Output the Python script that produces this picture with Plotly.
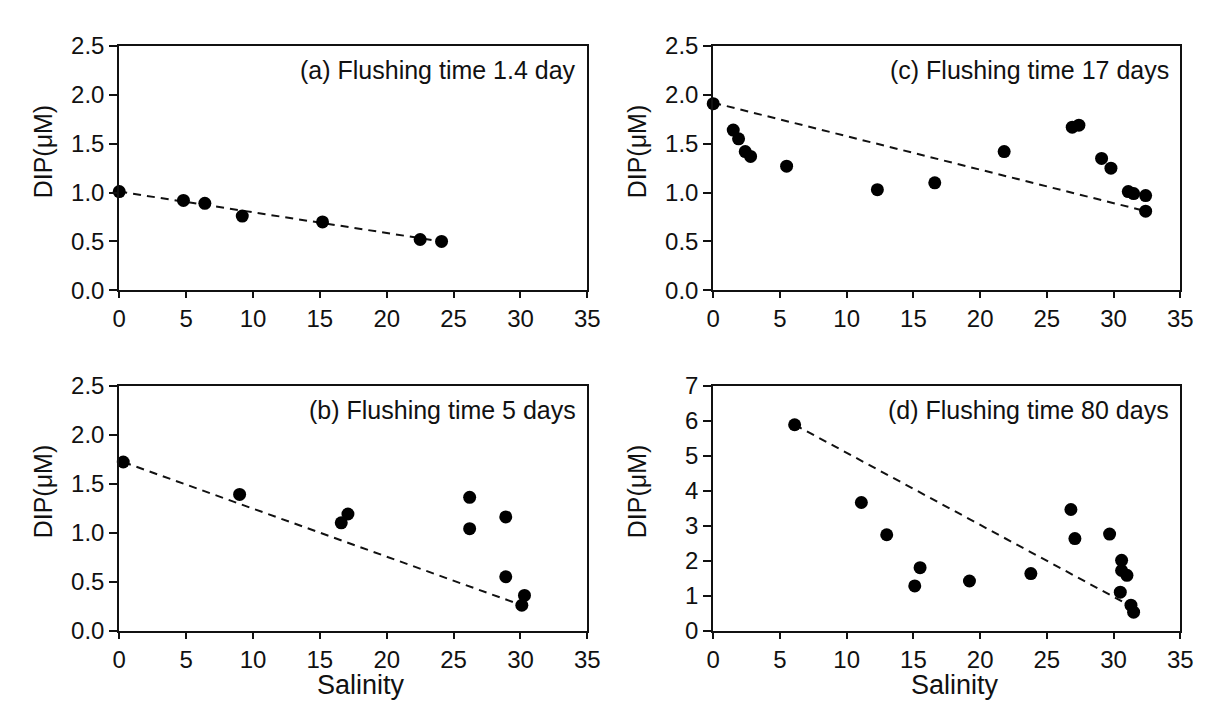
import plotly.graph_objects as go

W, H = 1205, 704

# ---- data ----
a_sal = [0.0, 4.8, 6.4, 9.2, 15.2, 22.5, 24.1]
a_dip = [1.01, 0.92, 0.89, 0.76, 0.70, 0.52, 0.50]
a_mix_sal = [0.0, 24.1]
a_mix_dip = [1.01, 0.50]

c_sal = [0.0, 1.5, 1.9, 2.4, 2.8, 5.5, 12.3, 16.6, 21.8, 26.9, 27.4, 29.1, 29.8, 31.1, 31.5, 32.4, 32.4]
c_dip = [1.91, 1.64, 1.55, 1.42, 1.37, 1.27, 1.03, 1.10, 1.42, 1.67, 1.69, 1.35, 1.25, 1.01, 0.99, 0.97, 0.81]
c_mix_sal = [0.0, 32.4]
c_mix_dip = [1.92, 0.81]

b_sal = [0.3, 9.0, 16.6, 17.1, 26.2, 26.2, 28.9, 28.9, 30.3, 30.1]
b_dip = [1.72, 1.39, 1.10, 1.19, 1.36, 1.04, 1.16, 0.55, 0.36, 0.26]
b_mix_sal = [0.3, 30.1]
b_mix_dip = [1.72, 0.26]

d_sal = [6.1, 11.1, 13.0, 15.1, 15.5, 19.2, 23.8, 26.8, 27.1, 29.7, 30.6, 30.6, 31.0, 30.5, 31.3, 31.5]
d_dip = [5.88, 3.66, 2.74, 1.28, 1.80, 1.42, 1.63, 3.46, 2.63, 2.76, 2.01, 1.72, 1.58, 1.10, 0.73, 0.53]
d_mix_sal = [6.1, 31.3]
d_mix_dip = [5.88, 0.70]

labels = ["(a) Flushing time 1.4 day", "(c) Flushing time 17 days",
          "(b) Flushing time 5 days", "(d) Flushing time 80 days"]
x_title = "Salinity"
y_title = "DIP(\u03bcM)"

FONT = "Liberation Sans, Arial, sans-serif"
INK = "#111111"

panels = [
    dict(sal=a_sal, dip=a_dip, ms=a_mix_sal, md=a_mix_dip, label=labels[0],
         xpx=(106, 582), ypx=(25, 279), ymax=2.5, dtick=0.5, fmt=".1f", xt=False),
    dict(sal=c_sal, dip=c_dip, ms=c_mix_sal, md=c_mix_dip, label=labels[1],
         xpx=(710, 1185), ypx=(25, 279), ymax=2.5, dtick=0.5, fmt=".1f", xt=False),
    dict(sal=b_sal, dip=b_dip, ms=b_mix_sal, md=b_mix_dip, label=labels[2],
         xpx=(106, 582), ypx=(378, 633), ymax=2.5, dtick=0.5, fmt=".1f", xt=True),
    dict(sal=d_sal, dip=d_dip, ms=d_mix_sal, md=d_mix_dip, label=labels[3],
         xpx=(710, 1185), ypx=(378, 633), ymax=7, dtick=1, fmt="d", xt=True),
]

fig = go.Figure()
annotations = []
layout_axes = {}

for i, p in enumerate(panels):
    n = "" if i == 0 else str(i + 1)
    xa, ya = "x" + n, "y" + n
    xdom = [p["xpx"][0] / W, p["xpx"][1] / W]
    ydom = [1 - p["ypx"][1] / H, 1 - p["ypx"][0] / H]

    fig.add_trace(go.Scatter(x=p["ms"], y=p["md"], mode="lines",
                             line=dict(color=INK, width=2, dash="8px,6px"),
                             xaxis=xa, yaxis=ya, hoverinfo="skip"))
    fig.add_trace(go.Scatter(x=p["sal"], y=p["dip"], mode="markers",
                             marker=dict(color="black", size=13, line=dict(width=0)),
                             cliponaxis=False, xaxis=xa, yaxis=ya))

    axis_common = dict(showline=True, linecolor=INK, linewidth=2, mirror=True,
                       ticks="outside", ticklen=6, tickwidth=2, tickcolor=INK,
                       showgrid=False, zeroline=False,
                       tickfont=dict(family=FONT, size=24, color=INK))
    layout_axes["xaxis" + n] = dict(axis_common, domain=xdom, range=[0, 35],
                                    tick0=0, dtick=5, anchor=ya)
    layout_axes["yaxis" + n] = dict(axis_common, domain=ydom, range=[0, p["ymax"]],
                                    tick0=0, dtick=p["dtick"], tickformat=p["fmt"],
                                    anchor=xa, ticklen=8)

    # panel label
    annotations.append(dict(text=p["label"], xref="paper", yref="paper",
                            x=(p["xpx"][1] - 9) / W, y=1 - (p["ypx"][0] + 25) / H,
                            xanchor="right", yanchor="middle", showarrow=False,
                            font=dict(family=FONT, size=25, color=INK)))
    # y title
    yc = (p["ypx"][0] + p["ypx"][1]) / 2 - 17
    annotations.append(dict(text=y_title, xref="paper", yref="paper",
                            x=(p["xpx"][0] - 78) / W, y=1 - yc / H,
                            xanchor="center", yanchor="middle", textangle=-90,
                            showarrow=False,
                            font=dict(family=FONT, size=25, color=INK)))
    if p["xt"]:
        xc = (p["xpx"][0] + p["xpx"][1]) / 2 + 8
        annotations.append(dict(text=x_title, xref="paper", yref="paper",
                                x=xc / W, y=1 - 689 / H,
                                xanchor="center", yanchor="middle", showarrow=False,
                                font=dict(family=FONT, size=27, color=INK)))

fig.update_layout(width=W, height=H, margin=dict(l=0, r=0, t=0, b=0),
                  paper_bgcolor="white", plot_bgcolor="white",
                  showlegend=False, annotations=annotations, **layout_axes)

fig.write_html("out.html")
